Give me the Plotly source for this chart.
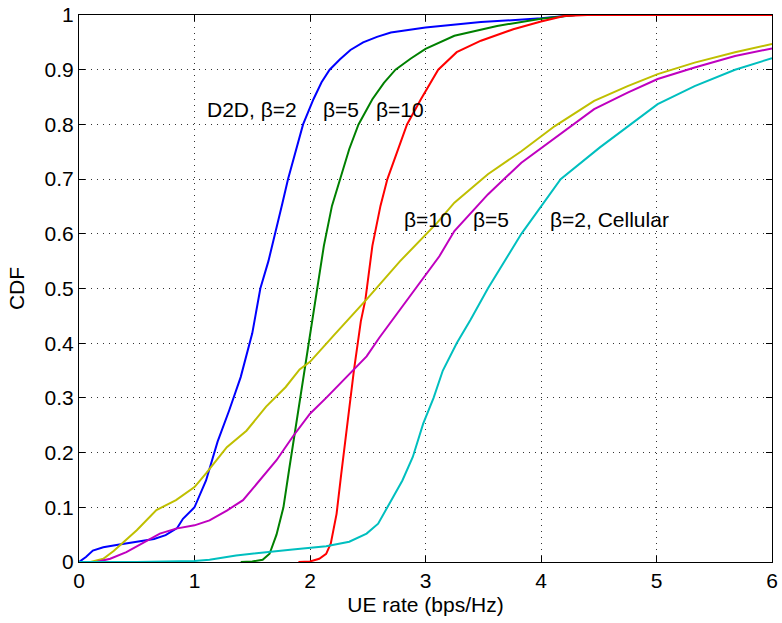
import plotly.graph_objects as go

# ---- data ----
blue_x = [0, 0.06, 0.12, 0.21, 0.35, 0.5, 0.65, 0.75, 0.85, 0.9, 1.0, 1.1, 1.2, 1.3, 1.4, 1.5, 1.57,
          1.64, 1.70, 1.76, 1.81, 1.88, 1.94, 2.03, 2.10, 2.17, 2.26, 2.35, 2.46, 2.58, 2.70, 3.0,
          3.48, 4.0, 4.3, 6.0]
blue_y = [0, 0.009, 0.021, 0.027, 0.032, 0.037, 0.042, 0.049, 0.062, 0.079, 0.10, 0.149, 0.22, 0.277,
          0.338, 0.418, 0.5, 0.55, 0.6, 0.655, 0.7, 0.755, 0.8, 0.846, 0.877, 0.9, 0.919, 0.936, 0.95,
          0.960, 0.968, 0.977, 0.987, 0.994, 1.0, 1.0]

green_x = [1.4, 1.5, 1.59, 1.65, 1.71, 1.77, 1.82, 1.88, 1.94, 2.0, 2.03, 2.08, 2.12, 2.19, 2.26,
           2.34, 2.42, 2.54, 2.64, 2.74, 2.87, 3.0, 3.25, 3.62, 4.0, 4.3, 6.0]
green_y = [0, 0.001, 0.004, 0.015, 0.05, 0.10, 0.17, 0.25, 0.33, 0.415, 0.455, 0.52, 0.578, 0.651, 0.70,
           0.755, 0.8, 0.846, 0.876, 0.9, 0.92, 0.938, 0.962, 0.980, 0.993, 1.0, 1.0]

red_x = [1.9, 2.0, 2.08, 2.14, 2.18, 2.23, 2.27, 2.32, 2.38, 2.44, 2.48, 2.54, 2.61, 2.67, 2.78,
         2.84, 2.96, 3.11, 3.27, 3.48, 3.76, 4.0, 4.2, 4.4, 6.0]
red_y = [0, 0.001, 0.006, 0.015, 0.034, 0.088, 0.16, 0.25, 0.35, 0.44, 0.48, 0.578, 0.651, 0.70, 0.765,
         0.8, 0.846, 0.9, 0.932, 0.953, 0.974, 0.988, 0.998, 1.0, 1.0]

yellow_x = [0.1, 0.21, 0.3, 0.41, 0.5, 0.67, 0.84, 1.0, 1.1, 1.28, 1.45, 1.62, 1.79, 1.91, 2.0, 2.20,
            2.49, 2.78, 3.10, 3.25, 3.54, 3.83, 4.12, 4.46, 4.75, 5.01, 5.33, 5.68, 6.0]
yellow_y = [0, 0.006, 0.02, 0.04, 0.058, 0.095, 0.113, 0.137, 0.162, 0.21, 0.24, 0.284, 0.32, 0.352,
            0.366, 0.413, 0.48, 0.55, 0.62, 0.657, 0.709, 0.751, 0.797, 0.843, 0.870, 0.892, 0.913,
            0.932, 0.947]

magenta_x = [0.15, 0.27, 0.41, 0.55, 0.70, 0.84, 1.0, 1.13, 1.28, 1.42, 1.56, 1.71, 1.85, 2.0, 2.14,
             2.29, 2.37, 2.49, 2.60, 2.78, 3.12, 3.25, 3.54, 3.83, 4.12, 4.46, 4.75, 5.01, 5.33, 5.68, 6.0]
magenta_y = [0, 0.006, 0.018, 0.034, 0.052, 0.061, 0.067, 0.076, 0.094, 0.113, 0.149, 0.186, 0.229,
             0.271, 0.30, 0.333, 0.35, 0.376, 0.41, 0.462, 0.559, 0.605, 0.672, 0.730, 0.775, 0.828,
             0.858, 0.883, 0.904, 0.925, 0.939]

cyan_x = [0, 0.5, 1.0, 1.13, 1.36, 1.56, 1.85, 2.14, 2.34, 2.49, 2.59, 2.72, 2.80, 2.89, 2.98, 3.07,
          3.15, 3.27, 3.39, 3.54, 3.83, 4.17, 4.51, 5.01, 5.33, 5.68, 6.0]
cyan_y = [0, 0, 0.002, 0.004, 0.012, 0.016, 0.023, 0.029, 0.037, 0.052, 0.07, 0.119, 0.149, 0.192,
          0.253, 0.30, 0.35, 0.40, 0.443, 0.5, 0.6, 0.7, 0.758, 0.837, 0.870, 0.90, 0.921]

series = [
    (blue_x, blue_y, "#0000FF"),
    (green_x, green_y, "#008000"),
    (red_x, red_y, "#FF0000"),
    (yellow_x, yellow_y, "#BFBF00"),
    (magenta_x, magenta_y, "#BF00BF"),
    (cyan_x, cyan_y, "#00BFBF"),
]

labels = ["D2D, β=2", "β=5", "β=10", "β=10", "β=5", "β=2, Cellular"]
label_x = [1.50, 2.27, 2.78, 3.02, 3.57, 4.59]
label_y = [0.828, 0.828, 0.828, 0.627, 0.627, 0.627]

x_ticks = [0, 1, 2, 3, 4, 5, 6]
y_ticks = [0, 0.1, 0.2, 0.3, 0.4, 0.5, 0.6, 0.7, 0.8, 0.9, 1]
y_ticktext = ["0", "0.1", "0.2", "0.3", "0.4", "0.5", "0.6", "0.7", "0.8", "0.9", "1"]

FONT = "Liberation Sans, Arial, Helvetica, sans-serif"
FS = 21

fig = go.Figure()
for xs, ys, c in series:
    fig.add_trace(go.Scatter(x=xs, y=ys, mode="lines", line=dict(color=c, width=2),
                             showlegend=False, hoverinfo="skip"))

for t, x, y in zip(labels, label_x, label_y):
    fig.add_annotation(x=x, y=y, text=t, showarrow=False,
                       font=dict(family=FONT, size=FS, color="black"),
                       xanchor="center", yanchor="middle")

axis_common = dict(
    showline=True, linecolor="black", linewidth=1, mirror="ticks",
    ticks="inside", ticklen=6, tickcolor="black", tickwidth=1,
    showgrid=True, gridcolor="#333333", gridwidth=1, griddash="1px,5px",
    zeroline=False, layer="below traces", ticklabeloverflow="allow",
    tickfont=dict(family=FONT, size=FS, color="black"),
)

fig.update_xaxes(range=[0, 6], tickvals=x_ticks,
                 title=dict(text="UE rate (bps/Hz)", font=dict(family=FONT, size=FS, color="black"),
                            standoff=6),
                 **axis_common)
fig.update_yaxes(range=[0, 1], tickvals=y_ticks, ticktext=y_ticktext,
                 title=dict(text="CDF", font=dict(family=FONT, size=FS, color="black"),
                            standoff=14),
                 **axis_common)

fig.update_layout(
    width=782, height=623,
    margin=dict(l=79, r=10, t=15, b=61, autoexpand=False),
    plot_bgcolor="white", paper_bgcolor="white",
    font=dict(family=FONT, size=FS, color="black"),
    hovermode=False,
)

# remove the browser's default 8px body margin so the figure fills the window exactly
fig.write_html("out.html",
               config={"displayModeBar": False, "staticPlot": True},
               post_script="document.body.style.margin='0';document.body.style.overflow='hidden';")
